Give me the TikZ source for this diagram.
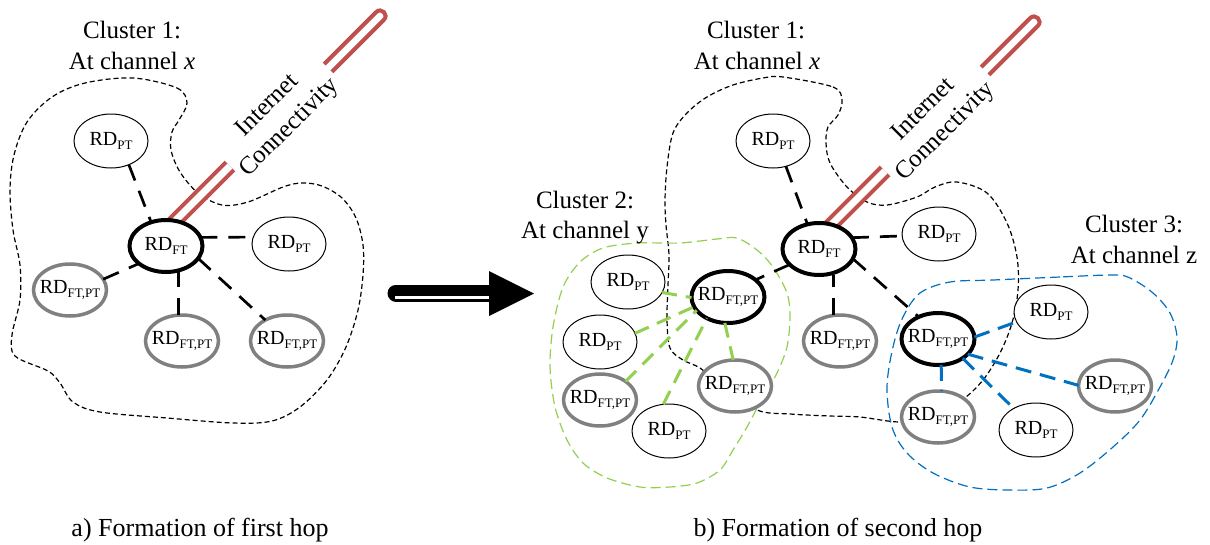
\documentclass[tikz,border=0pt]{standalone}
\usepackage{fontspec}
\setmainfont{Liberation Serif}
\usetikzlibrary{shapes.geometric}
\definecolor{pipered}{HTML}{C0504D}
\definecolor{ggreen}{HTML}{92D050}
\definecolor{bblue}{HTML}{0070C0}
\definecolor{ngray}{HTML}{808080}
\newcommand\rdsub[1]{\makebox[0pt]{RD\raisebox{-3.8pt}{\fontsize{13}{12}\selectfont #1}}}
\begin{document}
\begin{tikzpicture}[x=1pt,y=-1pt,
  every node/.style={inner sep=0pt, outer sep=0pt},
  rd/.style={ellipse, draw, fill=white, line width=1pt, minimum width=74pt, minimum height=54pt, font=\fontsize{20}{20}\selectfont},
  rdft/.style={rd, line width=4pt, minimum width=73pt, minimum height=52pt},
  rdgray/.style={rd, draw=ngray, line width=3.5pt, minimum width=73pt, minimum height=52pt},
  lab/.style={anchor=base, font=\fontsize{25}{31}\selectfont},
  captxt/.style={anchor=base, font=\fontsize{26}{31}\selectfont},
  outl/.style={line width=1.2pt, dash pattern=on 5pt off 3pt},
  goutl/.style={draw=ggreen, line width=1.2pt, dash pattern=on 10pt off 5pt},
  boutl/.style={draw=bblue, line width=1.2pt, dash pattern=on 10pt off 5pt},
  blk/.style={line width=2.7pt, dash pattern=on 17pt off 11pt},
  grn/.style={draw=ggreen, line width=3pt, dash pattern=on 15pt off 9pt},
  blu/.style={draw=bblue, line width=3pt, dash pattern=on 16pt off 9pt},
  pipe/.style={draw=pipered, line width=4pt, double=white, double distance=7pt},
  pipeend/.style={draw=pipered, line width=4pt}
]
\fill[white] (0,0) rectangle (1210,544);
\useasboundingbox (0,0) rectangle (1210,544);

% ---------- cluster outlines ----------
\draw[outl] plot[smooth cycle, tension=0.55] coordinates {
 (133,78) (177,88) (187,103) (179,120) (172,132) (171,150) (180,172) (198,193) (222,205) (248,202)
 (283,187) (302,183) (322,186) (342,198) (356,218) (363,245) (363,275) (358,310) (346,347)
 (327,380) (300,407) (272,421) (233,423) (167,418) (100,412) (73,402) (60,383) (48,371)
 (15,356) (12,335) (20,300) (20,265) (13,230) (10,190) (14,155) (27,122) (52,97) (85,83)};

\draw[outl] plot[smooth cycle, tension=0.55] coordinates {
 (783,77) (833,87) (842,100) (838,115) (828,127) (826,143) (830,163) (847,187) (867,202)
 (887,205) (917,197) (935,187) (957,182) (987,193) (1007,223) (1017,257) (1018,290)
 (1012,323) (1000,353) (983,380) (962,400) (930,418) (899,422) (860,417) (830,416) (790,414)
 (757,410) (720,385) (700,368) (683,360) (670,348) (667,320) (668,285) (669,255) (666,225)
 (665,200) (667,167) (673,133) (687,113) (707,97) (733,85) (763,78)};

\draw[goutl] plot[smooth cycle, tension=0.5] coordinates {
 (603,248) (637,243) (680,243) (717,239) (737,238) (757,250) (773,267) (787,293) (790,317)
 (787,347) (777,373) (763,397) (747,427) (733,450) (720,470) (697,483) (670,487) (640,487)
 (607,478) (583,463) (567,440) (555,407) (550,367) (553,327) (563,287) (580,262)};

\draw[boutl] plot[smooth cycle, tension=0.55] coordinates {
 (1113,275) (1060,277) (993,280) (950,282) (920,293) (903,317) (893,347) (887,387) (892,427)
 (907,453) (933,473) (970,487) (1010,490) (1047,488) (1080,473) (1113,447) (1140,420)
 (1160,387) (1173,360) (1177,337) (1170,313) (1153,293) (1130,278)};

% ---------- internet pipes ----------
\coordinate (lp0) at (172,224);
\coordinate (lp1) at (230,166);
\draw[pipe] (lp0) -- (lp1);
\draw[pipeend] (331.89,71.89) -- (383.89,19.89) .. controls (389.08,14.70) and (381.30,6.92) .. (376.11,12.11) -- (324.11,64.11);
\coordinate (rp0) at (828,228);
\coordinate (rp1) at (885,171);
\draw[pipe] (rp0) -- (rp1);
\draw[pipeend] (988.89,74.89) -- (1037.89,25.89) .. controls (1043.08,20.70) and (1035.30,12.92) .. (1030.11,18.11) -- (981.11,67.11);

\node[rotate=45, align=center, font=\fontsize{25}{31}\selectfont] (linet) at (279,117) {Internet\\Connectivity};
\node[rotate=45, align=center, font=\fontsize{25}{31}\selectfont] (rinet) at (935,121) {Internet\\Connectivity};

% ---------- arrow ----------
\draw[line width=17pt, line cap=round] (396,293) -- (490,293);
\draw[white, line width=3.5pt] (395,297.5) -- (490,297.5);
\fill (489,271) -- (534,293.5) -- (489,316) -- cycle;

% ---------- nodes (left) ----------
\node[rd]     (lpt1) at (111,141) {\rdsub{PT}};
\node[rdft]   (lft)  at (166,246) {\rdsub{FT}};
\node[rd]     (lpt2) at (289,244) {\rdsub{PT}};
\node[rdgray] (lfp1) at (70,290)  {\rdsub{FT,PT}};
\node[rdgray] (lfp2) at (182,341) {\rdsub{FT,PT}};
\node[rdgray] (lfp3) at (287,341) {\rdsub{FT,PT}};

% ---------- nodes (right) ----------
\node[rd]     (rpt1)  at (773,141)  {\rdsub{PT}};
\node[rdft]   (rft)   at (819,249)  {\rdsub{FT}};
\node[rd]     (rpt2)  at (939,234)  {\rdsub{PT}};
\node[rdgray] (rfp1)  at (840,341)  {\rdsub{FT,PT}};
\node[rdft]   (c2ft)  at (728,297)  {\rdsub{FT,PT}};
\node[rd]     (c2pt1) at (628,282)  {\rdsub{PT}};
\node[rd]     (c2pt2) at (600,342)  {\rdsub{PT}};
\node[rdgray] (c2fp1) at (600,400)  {\rdsub{FT,PT}};
\node[rd]     (c2pt3) at (669,431)  {\rdsub{PT}};
\node[rdgray] (c2fp2) at (735,386)  {\rdsub{FT,PT}};
\node[rdft]   (c3ft)  at (938,339)  {\rdsub{FT,PT}};
\node[rd]     (c3pt1) at (1051,312) {\rdsub{PT}};
\node[rdgray] (c3fp1) at (1115,386) {\rdsub{FT,PT}};
\node[rd]     (c3pt2) at (1036,430) {\rdsub{PT}};
\node[rdgray] (c3fp2) at (938,417)  {\rdsub{FT,PT}};

% ---------- links ----------
\draw[blk] (lpt1.-53) -- (lft.122);
\draw[blk] (lft.14) -- (lpt2.169);
\draw[blk] (lfp1.18) -- (lft.213);
\draw[blk] (lfp2.98) -- (lfp2.98 |- lft.south);
\draw[blk] (lft.-21) -- (lfp3.136);

\draw[blk] (rpt1.-63) -- (rft.115);
\draw[blk] (rft.19) -- (rpt2.183);
\draw[blk] (rfp1.105) -- (rfp1.105 |- rft.south);
\draw[blk] (rft.208) -- (c2ft.32);
\draw[blk] (rft.-16) -- (c3ft.131);

\draw[grn] (c2pt1.-17) -- (c2ft.181);
\draw[grn] (c2pt2.14) -- (c2ft.196);
\draw[grn] (c2fp1.36) -- (c2ft.203);
\draw[grn] (c2pt3.102) -- (c2ft.225);
\draw[grn] (c2ft.263) -- (c2fp2.94);

\draw[blu] (c3ft.3) -- (c3pt1.196);
\draw[blu] (c3ft.-27) -- (c3fp1.179);
\draw[blu] (c3ft.-38) -- (c3pt2.136);
\draw[blu] (c3ft.-83) -- (c3fp2.82);

% ---------- labels ----------
\node[lab] (l1a) at (132,38) {Cluster 1:};
\node[lab] (l1b) at (132,69) {At channel \textit{x}};
\node[lab] (r1a) at (756,38) {Cluster 1:};
\node[lab] (r1b) at (757,69) {At channel \textit{x}};
\node[lab] (c2a) at (585,208) {Cluster 2:};
\node[lab] (c2b) at (585,238) {At channel y};
\node[lab] (c3a) at (1134,232) {Cluster 3:};
\node[lab] (c3b) at (1134,263) {At channel z};
\node[captxt] (capa) at (200,536) {a) Formation of first hop};
\node[captxt] (capb) at (838,536) {b) Formation of second hop};
\end{tikzpicture}
\end{document}
